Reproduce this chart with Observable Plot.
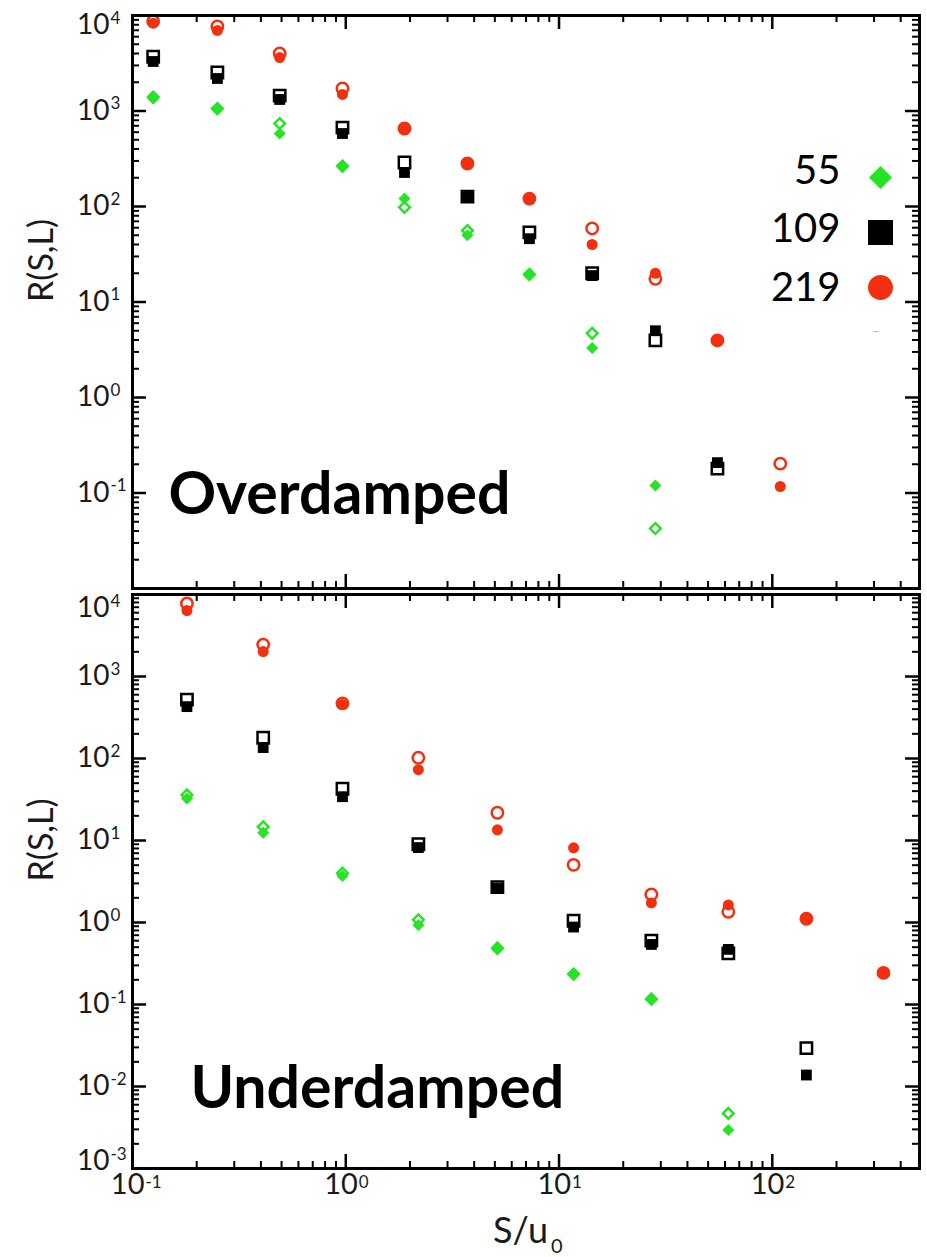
<!DOCTYPE html>
<html>
<head>
<meta charset="utf-8">
<script src="https://cdn.jsdelivr.net/npm/d3@7"></script>
<script src="https://cdn.jsdelivr.net/npm/@observablehq/plot@0.6"></script>
<style>
  html, body { margin: 0; padding: 0; background: #fff; }
  #chart { width: 927px; }
  #chart svg { display: block; overflow: visible; }
</style>
</head>
<body>
<div id="chart"></div>
<script>
// ---- Overdamped: S/u0 bins and R(S,L) per system size (filled and open symbols)
const overdampedS = [0.125, 0.25, 0.49, 0.965, 1.885, 3.72, 7.26, 14.3, 28.3, 55.3, 109];
const over55      = [1350, 1040, 580, 262, 121, 50, 19, 3.3, 0.12, null, null];
const over55Open  = [1400, 1060, 740, 265, 98, 56, 19.5, 4.7, 0.0425, null, null];
const over109     = [3300, 2190, 1320, 581, 227, 127, 46, 18.9, 5.0, 0.208, null];
const over109Open = [3700, 2530, 1450, 671, 289, 127, 53.5, 20, 3.96, 0.18, null];
const over219     = [8300, 6970, 3630, 1490, 656, 282, 121, 40, 20, 3.96, 0.117];
const over219Open = [8700, 7670, 4000, 1720, 656, 282, 121, 58.9, 17.5, 3.96, 0.203];

// ---- Underdamped
const underdampedS = [0.18, 0.41, 0.965, 2.19, 5.14, 11.7, 27.1, 62.2, 144.5, 332];
const under55      = [32.6, 12.4, 3.7, 0.93, 0.47, 0.229, 0.114, 0.00294, null, null];
const under55Open  = [36, 14.7, 4.0, 1.08, 0.49, 0.235, 0.117, 0.0047, null, null];
const under109     = [429, 136, 34.2, 8.2, 2.6, 0.88, 0.54, 0.47, 0.0138, null];
const under109Open = [522, 179, 42.8, 9.0, 2.7, 1.05, 0.6, 0.42, 0.0294, null];
const under219     = [6380, 2014, 454, 73, 13.5, 8.15, 1.73, 1.64, 1.11, 0.243];
const under219Open = [7760, 2450, 470, 102, 21.8, 5.05, 2.2, 1.35, 1.11, 0.243];

// legend labels (system size L)
const sizes = ["55", "109", "219"];

const xDomain = [0.1, 490];
const overYDomain = [0.01, 10000];
const underYDomain = [0.001, 10000];

// ---- styling
const GREEN = "#26e326", BLACK = "#000000", RED = "#f2300f";
const styleBySize = {
  "55":  {color: GREEN, symbol: "diamond2", rFill: 5.4, rOpen: 4.8, rLegend: 10.4},
  "109": {color: BLACK, symbol: "square",   rFill: 6.1, rOpen: 6.4, rLegend: 14.1},
  "219": {color: RED,   symbol: "circle",   rFill: 5.5, rOpen: 5.7, rLegend: 12.5}
};
const FONT = "Lato";
const W = 927, ML = 132, MR = 8;
const innerW = W - ML - MR;

const rows = (xs, ys) => ys.map((v, i) => ({S: xs[i], R: v})).filter(d => d.R != null);
const logTicks = domain => d3.scaleLog().domain(domain).ticks();
const isMajor = d => Math.abs(Math.log10(d) - Math.round(Math.log10(d))) < 1e-9;
const expo = d => String(Math.round(Math.log10(d)));

function dataMarks(xs, series) {
  const opens = series.map(s => Plot.dot(rows(xs, s.open), {
    x: "S", y: "R", symbol: styleBySize[s.L].symbol, r: styleBySize[s.L].rOpen,
    fill: "white", stroke: styleBySize[s.L].color, strokeWidth: 2.5
  }));
  const filled = series.map(s => Plot.dot(rows(xs, s.filled), {
    x: "S", y: "R", symbol: styleBySize[s.L].symbol, r: styleBySize[s.L].rFill,
    fill: styleBySize[s.L].color
  }));
  return [...opens, ...filled];
}

// inward ticks on all four sides of the frame
function frameTicks(yDomain, innerH) {
  const xt = logTicks(xDomain), yt = logTicks(yDomain);
  const xMaj = xt.filter(isMajor), xMin = xt.filter(d => !isMajor(d));
  const yMaj = yt.filter(isMajor), yMin = yt.filter(d => !isMajor(d));
  const big = 14, small = 7;
  return [
    Plot.tickY(yMaj, {y: d => d, insetRight: innerW - big, strokeWidth: 2.5}),
    Plot.tickY(yMin, {y: d => d, insetRight: innerW - small, strokeWidth: 2}),
    Plot.tickY(yMaj, {y: d => d, insetLeft: innerW - big, strokeWidth: 2.5}),
    Plot.tickY(yMin, {y: d => d, insetLeft: innerW - small, strokeWidth: 2}),
    Plot.tickX(xMaj, {x: d => d, insetBottom: innerH - big, strokeWidth: 2.5}),
    Plot.tickX(xMin, {x: d => d, insetBottom: innerH - small, strokeWidth: 2}),
    Plot.tickX(xMaj, {x: d => d, insetTop: innerH - big, strokeWidth: 2.5}),
    Plot.tickX(xMin, {x: d => d, insetTop: innerH - small, strokeWidth: 2})
  ];
}

// "10" with a raised exponent, right-aligned to the left of the frame
function yLabels(values, shift = 0) {
  return [
    Plot.text(values, {y: d => d, frameAnchor: "left", text: () => "10", textAnchor: "end",
      dx: -23, dy: shift, fontSize: 28, fill: "#1a1a1a"}),
    Plot.text(values, {y: d => d, frameAnchor: "left", text: expo, textAnchor: "start",
      dx: -22, dy: shift - 7, fontSize: 17, fill: "#1a1a1a"})
  ];
}

function yTitle() {
  return Plot.text(["R(S,L)"], {frameAnchor: "left", text: d => d, rotate: -90,
    dx: -90, fontSize: 34, fill: "#1a1a1a"});
}

// ---------------- Overdamped panel ----------------
const overH = 590, overMT = 15, overMB = 2;
const overSeries = [
  {L: "55",  filled: over55,  open: over55Open},
  {L: "109", filled: over109, open: over109Open},
  {L: "219", filled: over219, open: over219Open}
];

const legendMarks = sizes.flatMap((L, i) => [
  Plot.text([L], {frameAnchor: "top-right", text: d => d, textAnchor: "end", lineAnchor: "bottom",
    dx: -79, dy: 168 + i * 58.5, fontSize: 40, fill: "#000"}),
  Plot.dot([L], {frameAnchor: "top-right", dx: -39, dy: 162 + i * 55,
    symbol: styleBySize[L].symbol, r: styleBySize[L].rLegend, fill: styleBySize[L].color})
]);

const overPlot = Plot.plot({
  width: W, height: overH,
  marginLeft: ML, marginRight: MR, marginTop: overMT, marginBottom: overMB,
  style: {fontFamily: FONT, background: "white"},
  x: {type: "log", domain: xDomain, axis: null},
  y: {type: "log", domain: overYDomain, axis: null},
  marks: [
    ...dataMarks(overdampedS, overSeries),
    ...legendMarks,
    Plot.text(["–"], {frameAnchor: "top-right", text: d => d, dx: -39, dy: 310, fontSize: 15, fill: "#8fe68f"}),
    Plot.text(["Overdamped"], {frameAnchor: "bottom-left", text: d => d, textAnchor: "start",
      lineAnchor: "bottom", dx: 36, dy: -75, fontSize: 59, fontWeight: 700, fill: "#000"}),
    ...frameTicks(overYDomain, overH - overMT - overMB),
    Plot.frame({strokeWidth: 3}),
    ...yLabels([1000, 100, 10, 1, 0.1]),
    ...yLabels([10000], 10),
    yTitle()
  ]
});

// ---------------- Underdamped panel ----------------
const underH = 667, underMT = 4, underMB = 89;
const underSeries = [
  {L: "55",  filled: under55,  open: under55Open},
  {L: "109", filled: under109, open: under109Open},
  {L: "219", filled: under219, open: under219Open}
];
const xMajor = logTicks(xDomain).filter(isMajor);

const underPlot = Plot.plot({
  width: W, height: underH,
  marginLeft: ML, marginRight: MR, marginTop: underMT, marginBottom: underMB,
  style: {fontFamily: FONT, background: "white"},
  x: {type: "log", domain: xDomain, axis: null},
  y: {type: "log", domain: underYDomain, axis: null},
  marks: [
    ...dataMarks(underdampedS, underSeries),
    Plot.text(["Underdamped"], {frameAnchor: "bottom-left", text: d => d, textAnchor: "start",
      lineAnchor: "bottom", dx: 58, dy: -61, fontSize: 59, fontWeight: 700, fill: "#000"}),
    ...frameTicks(underYDomain, underH - underMT - underMB),
    Plot.frame({strokeWidth: 3}),
    ...yLabels([1000, 100, 10, 1, 0.1, 0.01]),
    ...yLabels([10000], 14),
    ...yLabels([0.001], -7),
    yTitle(),
    // x tick labels
    Plot.text(xMajor, {x: d => d, frameAnchor: "bottom", text: () => "10", textAnchor: "end",
      dx: 12, dy: 25, fontSize: 29, fill: "#1a1a1a"}),
    Plot.text(xMajor, {x: d => d, frameAnchor: "bottom", text: expo, textAnchor: "start",
      dx: 13, dy: 19, fontSize: 17, fill: "#1a1a1a"}),
    // x title S/u0
    Plot.text(["S/u"], {frameAnchor: "bottom", text: d => d, textAnchor: "end", lineAnchor: "bottom",
      dx: 22, dy: 74, fontSize: 36, fill: "#1a1a1a"}),
    Plot.text(["0"], {frameAnchor: "bottom", text: d => d, textAnchor: "start", lineAnchor: "bottom",
      dx: 25, dy: 84, fontSize: 20, fill: "#1a1a1a"})
  ]
});

document.getElementById("chart").append(overPlot, underPlot);
</script>
</body>
</html>
